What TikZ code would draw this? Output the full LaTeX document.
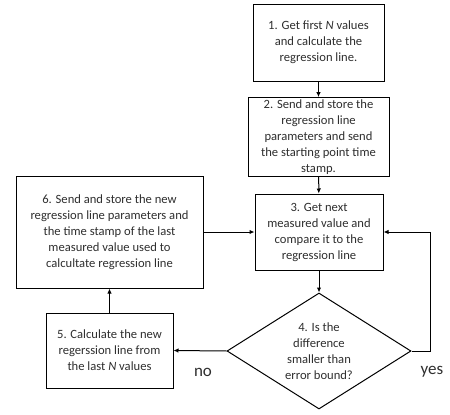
\documentclass[tikz,border=0pt]{standalone}
\usepackage{fontspec}
\setmainfont{Carlito}
\usetikzlibrary{shapes.geometric,arrows.meta}
\definecolor{txt}{HTML}{2E2E2E}
\tikzset{
  flowbox/.style={draw=black, line width=1pt, rectangle, align=center, inner sep=2pt,
    text=txt, font=\fontsize{12.6}{16}\selectfont},
  decide/.style={draw=black, line width=1pt, diamond, align=center, inner sep=0pt,
    text=txt, font=\fontsize{12.6}{16}\selectfont, minimum width=184pt, minimum height=116pt, shape aspect=1.586},
  flow/.style={line width=1pt, -{Latex[length=5pt,width=4.5pt]}},
  lbl/.style={text=txt, font=\fontsize{17}{19}\selectfont}
}
\begin{document}
\begin{tikzpicture}[x=1pt,y=-1pt]
\useasboundingbox (0,0) rectangle (450,415);
\node[flowbox, minimum width=131pt, minimum height=77pt] (b1) at (318.5,42.5)
  {1. Get first \textit{N} values\\and calculate the\\regression line.};
\node[flowbox, minimum width=141pt, minimum height=76pt] (b2) at (318.5,137)
  {2. Send and store the\\regression line\\parameters and send\\the starting point time\\stamp.};
\node[flowbox, minimum width=128pt, minimum height=76pt] (b3) at (319,232)
  {3. Get next\\measured value and\\compare it to the\\regression line};
\node[flowbox, minimum width=187pt, minimum height=112pt] (b6) at (109.5,232)
  {6. Send and store the new\\regression line parameters and\\the time stamp of the last\\measured value used to\\calcultate regression line};
\node[flowbox, minimum width=127pt, minimum height=75pt] (b5) at (109.5,350.5)
  {5. Calculate the new\\regerssion line from\\the last \textit{N} values};
\node[decide] (d4) at (319,351)
  {4. Is the\\difference\\smaller than\\error bound?};
\coordinate (c1) at (430,351);
\coordinate (c2) at (430,232);
\node[lbl] (no) at (203,372) {no};
\node[lbl] (yes) at (432,372) {yes};
\draw[flow] (b1) -- (b2);
\draw[flow] (b2) -- (b3);
\draw[flow] (b3) -- (d4);
\draw[flow] (d4.east) -- (c1) -- (c2) -- (b3.east);
\draw[flow] (d4.west) -- (b5.east);
\draw[flow] (b5) -- (b6);
\draw[flow] (b6) -- (b3);
\end{tikzpicture}
\end{document}
